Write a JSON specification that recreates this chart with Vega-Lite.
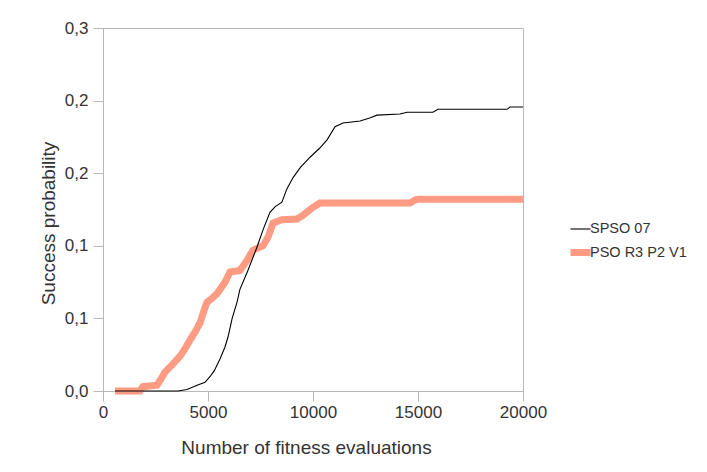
{
  "$schema": "https://vega.github.io/schema/vega-lite/v6.json",
  "width": 420,
  "height": 363,
  "autosize": {"type": "none"},
  "padding": {"left": 103, "top": 28, "right": 184, "bottom": 81},
  "background": "white",
  "config": {
    "font": "Liberation Sans",
    "view": {"stroke": "#b8b8b8", "strokeWidth": 1},
    "axis": {
      "grid": false,
      "domainColor": "#b8b8b8",
      "tickColor": "#b8b8b8",
      "tickSize": 10,
      "labelFontSize": 17,
      "labelColor": "#333333",
      "labelFlush": false,
      "titleFontSize": 19,
      "titleFontWeight": "normal",
      "titleColor": "#333333"
    }
  },
  "data": {
    "values": [
      {"series": "PSO R3 P2 V1", "evals": 570, "p": 0},
      {"series": "PSO R3 P2 V1", "evals": 1760, "p": 0},
      {"series": "PSO R3 P2 V1", "evals": 1900, "p": 0.003},
      {"series": "PSO R3 P2 V1", "evals": 2570, "p": 0.004},
      {"series": "PSO R3 P2 V1", "evals": 2750, "p": 0.008},
      {"series": "PSO R3 P2 V1", "evals": 2950, "p": 0.013},
      {"series": "PSO R3 P2 V1", "evals": 3290, "p": 0.018},
      {"series": "PSO R3 P2 V1", "evals": 3670, "p": 0.024},
      {"series": "PSO R3 P2 V1", "evals": 3900, "p": 0.029},
      {"series": "PSO R3 P2 V1", "evals": 4140, "p": 0.035},
      {"series": "PSO R3 P2 V1", "evals": 4400, "p": 0.041},
      {"series": "PSO R3 P2 V1", "evals": 4620, "p": 0.047},
      {"series": "PSO R3 P2 V1", "evals": 4800, "p": 0.055},
      {"series": "PSO R3 P2 V1", "evals": 4950, "p": 0.061},
      {"series": "PSO R3 P2 V1", "evals": 5200, "p": 0.064},
      {"series": "PSO R3 P2 V1", "evals": 5430, "p": 0.067},
      {"series": "PSO R3 P2 V1", "evals": 5810, "p": 0.075},
      {"series": "PSO R3 P2 V1", "evals": 6050, "p": 0.082},
      {"series": "PSO R3 P2 V1", "evals": 6520, "p": 0.083},
      {"series": "PSO R3 P2 V1", "evals": 6860, "p": 0.09},
      {"series": "PSO R3 P2 V1", "evals": 7140, "p": 0.097},
      {"series": "PSO R3 P2 V1", "evals": 7620, "p": 0.1},
      {"series": "PSO R3 P2 V1", "evals": 7860, "p": 0.106},
      {"series": "PSO R3 P2 V1", "evals": 8100, "p": 0.1157},
      {"series": "PSO R3 P2 V1", "evals": 8520, "p": 0.118},
      {"series": "PSO R3 P2 V1", "evals": 9240, "p": 0.1185},
      {"series": "PSO R3 P2 V1", "evals": 9520, "p": 0.121},
      {"series": "PSO R3 P2 V1", "evals": 9950, "p": 0.126},
      {"series": "PSO R3 P2 V1", "evals": 10330, "p": 0.1295},
      {"series": "PSO R3 P2 V1", "evals": 14620, "p": 0.1295},
      {"series": "PSO R3 P2 V1", "evals": 14860, "p": 0.1315},
      {"series": "PSO R3 P2 V1", "evals": 15000, "p": 0.132},
      {"series": "PSO R3 P2 V1", "evals": 20000, "p": 0.132},
      {"series": "SPSO 07", "evals": 570, "p": 0},
      {"series": "SPSO 07", "evals": 3570, "p": 0},
      {"series": "SPSO 07", "evals": 4000, "p": 0.001},
      {"series": "SPSO 07", "evals": 4480, "p": 0.004},
      {"series": "SPSO 07", "evals": 4860, "p": 0.006},
      {"series": "SPSO 07", "evals": 5100, "p": 0.01},
      {"series": "SPSO 07", "evals": 5300, "p": 0.014},
      {"series": "SPSO 07", "evals": 5570, "p": 0.022},
      {"series": "SPSO 07", "evals": 5800, "p": 0.03},
      {"series": "SPSO 07", "evals": 5950, "p": 0.037},
      {"series": "SPSO 07", "evals": 6150, "p": 0.05},
      {"series": "SPSO 07", "evals": 6380, "p": 0.061},
      {"series": "SPSO 07", "evals": 6520, "p": 0.07},
      {"series": "SPSO 07", "evals": 6900, "p": 0.083},
      {"series": "SPSO 07", "evals": 7330, "p": 0.099},
      {"series": "SPSO 07", "evals": 7620, "p": 0.111},
      {"series": "SPSO 07", "evals": 7950, "p": 0.123},
      {"series": "SPSO 07", "evals": 8200, "p": 0.127},
      {"series": "SPSO 07", "evals": 8520, "p": 0.13},
      {"series": "SPSO 07", "evals": 8750, "p": 0.139},
      {"series": "SPSO 07", "evals": 9050, "p": 0.147},
      {"series": "SPSO 07", "evals": 9400, "p": 0.154},
      {"series": "SPSO 07", "evals": 9860, "p": 0.161},
      {"series": "SPSO 07", "evals": 10300, "p": 0.167},
      {"series": "SPSO 07", "evals": 10670, "p": 0.173},
      {"series": "SPSO 07", "evals": 11050, "p": 0.182},
      {"series": "SPSO 07", "evals": 11430, "p": 0.1846},
      {"series": "SPSO 07", "evals": 12240, "p": 0.186},
      {"series": "SPSO 07", "evals": 12700, "p": 0.188},
      {"series": "SPSO 07", "evals": 13050, "p": 0.19},
      {"series": "SPSO 07", "evals": 14140, "p": 0.1908},
      {"series": "SPSO 07", "evals": 14480, "p": 0.192},
      {"series": "SPSO 07", "evals": 15710, "p": 0.192},
      {"series": "SPSO 07", "evals": 15950, "p": 0.194},
      {"series": "SPSO 07", "evals": 19240, "p": 0.194},
      {"series": "SPSO 07", "evals": 19380, "p": 0.1956},
      {"series": "SPSO 07", "evals": 20000, "p": 0.1956}
    ]
  },
  "mark": {"type": "line", "interpolate": "linear"},
  "encoding": {
    "x": {
      "field": "evals",
      "type": "quantitative",
      "scale": {"domain": [0, 20000], "nice": false},
      "axis": {
        "title": "Number of fitness evaluations",
        "values": [0, 5000, 10000, 15000, 20000],
        "format": "d",
        "labelPadding": 3,
        "titleX": 203,
        "titleY": 62,
        "titleBaseline": "alphabetic"
      }
    },
    "y": {
      "field": "p",
      "type": "quantitative",
      "scale": {"domain": [0, 0.25], "nice": false, "zero": true},
      "axis": {
        "title": "Success probability",
        "values": [0, 0.05, 0.1, 0.15, 0.2, 0.25],
        "labelExpr": "replace(format(datum.value + 1e-9, '.1f'), '.', ',')",
        "labelPadding": 5,
        "titleX": -49,
        "titleY": 195,
        "titleAngle": 270,
        "titleBaseline": "alphabetic"
      }
    },
    "color": {
      "field": "series",
      "type": "nominal",
      "scale": {"domain": ["SPSO 07", "PSO R3 P2 V1"], "range": ["#000000", "#FF9B82"]},
      "legend": {
        "title": null,
        "orient": "none",
        "legendX": 464,
        "legendY": 190,
        "padding": 0,
        "symbolType": "stroke",
        "symbolSize": 400,
        "labelFontSize": 14.5,
        "labelColor": "#333333",
        "labelOffset": -4,
        "rowPadding": 2,
        "encode": {
          "symbols": {
            "update": {
              "strokeWidth": {"signal": "datum.value === 'SPSO 07' ? 1.5 : 7"}
            }
          }
        }
      }
    },
    "strokeWidth": {
      "field": "series",
      "type": "nominal",
      "scale": {"domain": ["SPSO 07", "PSO R3 P2 V1"], "range": [1.1, 7]},
      "legend": null
    }
  }
}
